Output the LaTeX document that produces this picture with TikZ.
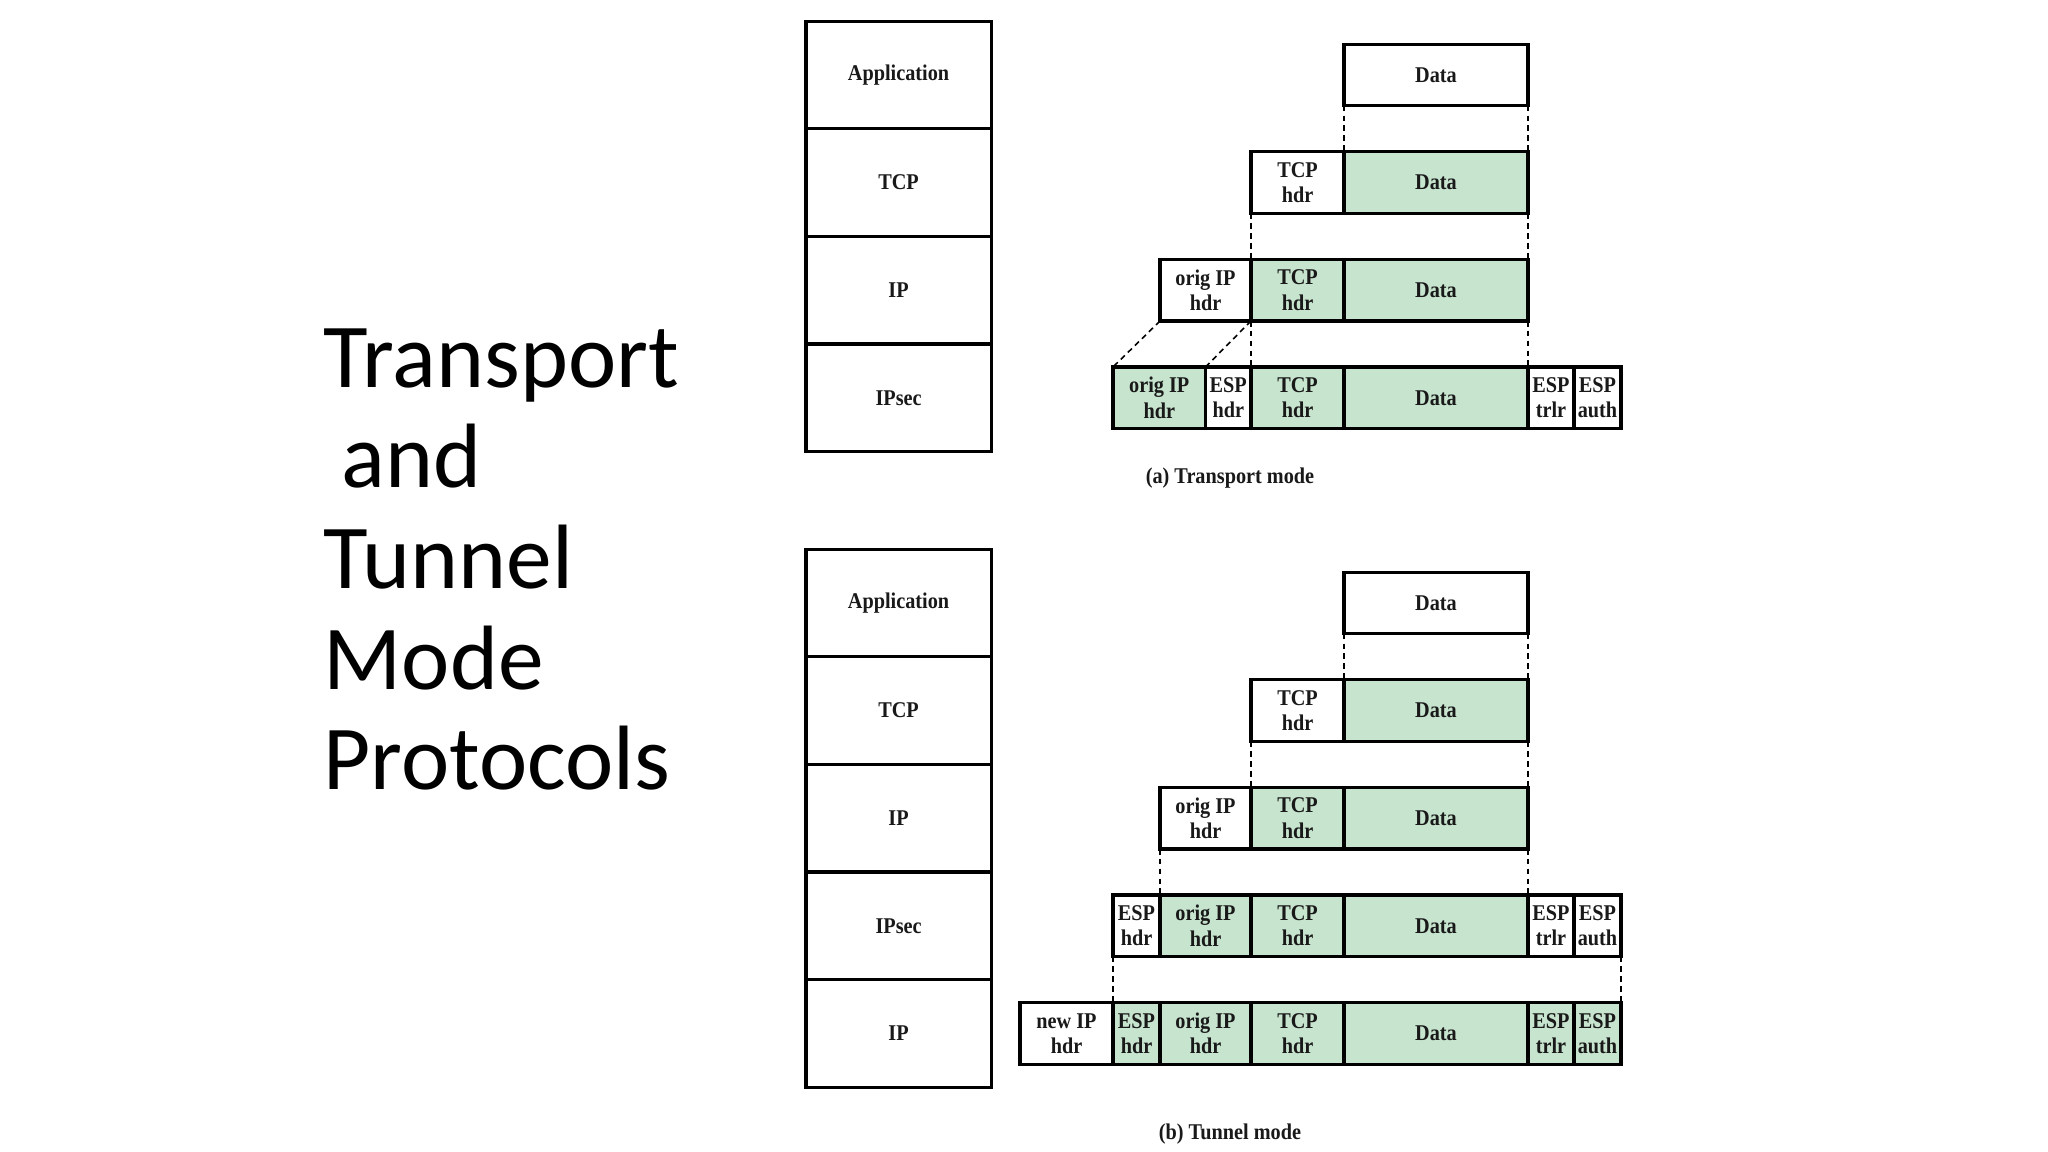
\documentclass[tikz,border=0pt]{standalone}
\usepackage{fontspec}
\setmainfont{Liberation Serif}
\newfontfamily\titlefont{Carlito}
\newfontfamily\pktfont[FakeStretch=0.9]{Liberation Serif}
\usetikzlibrary{calc}
\definecolor{pktgreen}{RGB}{199,228,206}

\tikzset{
  pkt/.style={font={\pktfont\bfseries\fontsize{6.4}{7.2}\selectfont}, text=black!90},
  cell/.style={pkt, draw, line width=0.9pt, inner sep=0pt, outer sep=0pt,
    minimum height=0.615cm, align=center},
  layer/.style={cell, minimum width=1.85cm, minimum height=1.076cm},
  link/.style={line width=0.45pt, dash pattern=on 1.6pt off 1.2pt},
}

\begin{document}
\begin{tikzpicture}[x=0.01cm, y=-0.01cm]
  \useasboundingbox (0,0) rectangle (2048,1152);
  \fill[white] (0,0) rectangle (2048,1152);
  % Title
  \node[anchor=north west, inner sep=0pt, align=left,
    font={\titlefont\fontsize{26}{28.6}\selectfont}] (title) at (323,328)
    {Transport\\\hspace*{.2em}and\\Tunnel\\Mode\\Protocols};
  % Protocol stacks
  \foreach \i/\txt in {1/Application, 2/TCP, 3/IP, 4/IPsec}
    \node[layer] (sa\i) at (898.6,{75+107.6*(\i-1)}) {\txt};
  \foreach \i/\txt in {1/Application, 2/TCP, 3/IP, 4/IPsec, 5/IP}
    \node[layer] (sb\i) at (898.6,{603+107.6*(\i-1)}) {\txt};
  % (a) Transport mode packets
  \foreach \nm/\xa/\xb/\fl/\txt/\y in {
    tp1d/1344/1528/white/Data/75,
    tp2t/1251/1344/white/{TCP\\hdr}/182.6,
    tp2d/1344/1528/pktgreen/Data/182.6,
    tp3i/1160/1251/white/{orig IP\\hdr}/290.2,
    tp3t/1251/1344/pktgreen/{TCP\\hdr}/290.2,
    tp3d/1344/1528/pktgreen/Data/290.2,
    tp4i/1113/1205.5/pktgreen/{orig IP\\hdr}/397.8,
    tp4e/1205.5/1251/white/{ESP\\hdr}/397.8,
    tp4t/1251/1344/pktgreen/{TCP\\hdr}/397.8,
    tp4d/1344/1528/pktgreen/Data/397.8,
    tp4x/1528/1574/white/{ESP\\trlr}/397.8,
    tp4a/1574/1621/white/{ESP\\auth}/397.8}
    \node[cell, fill=\fl, minimum width={(\xb-\xa)*0.01cm}] (\nm) at ({(\xa+\xb)/2},\y) {\txt};
  \draw[link] (tp1d.south west) -- (tp2d.north west);
  \draw[link] (tp1d.south east) -- (tp2d.north east);
  \draw[link] (tp2t.south west) -- (tp3t.north west);
  \draw[link] (tp2d.south east) -- (tp3d.north east);
  \draw[link] (tp3i.south west) -- (tp4i.north west);
  \draw[link] (tp3i.south east) -- (tp4e.north west);
  \draw[link] (tp3t.south west) -- (tp4t.north west);
  \draw[link] (tp3d.south east) -- (tp4d.north east);
  \node[pkt] (capa) at (1230,478) {(a) Transport mode};
  % (b) Tunnel mode packets
  \foreach \nm/\xa/\xb/\fl/\txt/\y in {
    tu1d/1344/1528/white/Data/603,
    tu2t/1251/1344/white/{TCP\\hdr}/710.6,
    tu2d/1344/1528/pktgreen/Data/710.6,
    tu3i/1160/1251/white/{orig IP\\hdr}/818.2,
    tu3t/1251/1344/pktgreen/{TCP\\hdr}/818.2,
    tu3d/1344/1528/pktgreen/Data/818.2,
    tu4e/1113/1160/white/{ESP\\hdr}/925.8,
    tu4i/1160/1251/pktgreen/{orig IP\\hdr}/925.8,
    tu4t/1251/1344/pktgreen/{TCP\\hdr}/925.8,
    tu4d/1344/1528/pktgreen/Data/925.8,
    tu4x/1528/1574/white/{ESP\\trlr}/925.8,
    tu4a/1574/1621/white/{ESP\\auth}/925.8,
    tu5n/1020/1113/white/{new IP\\hdr}/1033.4,
    tu5e/1113/1160/pktgreen/{ESP\\hdr}/1033.4,
    tu5i/1160/1251/pktgreen/{orig IP\\hdr}/1033.4,
    tu5t/1251/1344/pktgreen/{TCP\\hdr}/1033.4,
    tu5d/1344/1528/pktgreen/Data/1033.4,
    tu5x/1528/1574/pktgreen/{ESP\\trlr}/1033.4,
    tu5a/1574/1621/pktgreen/{ESP\\auth}/1033.4}
    \node[cell, fill=\fl, minimum width={(\xb-\xa)*0.01cm}] (\nm) at ({(\xa+\xb)/2},\y) {\txt};
  \draw[link] (tu1d.south west) -- (tu2d.north west);
  \draw[link] (tu1d.south east) -- (tu2d.north east);
  \draw[link] (tu2t.south west) -- (tu3t.north west);
  \draw[link] (tu2d.south east) -- (tu3d.north east);
  \draw[link] (tu3i.south west) -- (tu4i.north west);
  \draw[link] (tu3d.south east) -- (tu4d.north east);
  \draw[link] (tu4e.south west) -- (tu5e.north west);
  \draw[link] (tu4a.south east) -- (tu5a.north east);
  \node[pkt] (capb) at (1230,1134) {(b) Tunnel mode};
\end{tikzpicture}
\end{document}
